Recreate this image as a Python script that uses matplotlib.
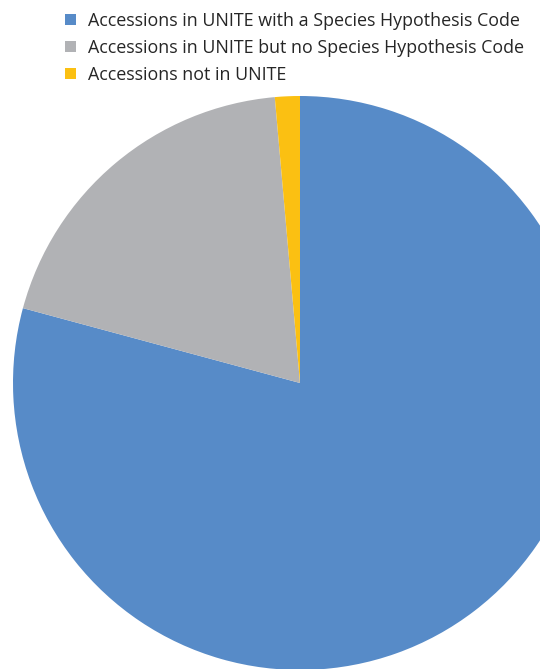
import matplotlib
matplotlib.use("Agg")
import matplotlib.pyplot as plt
from matplotlib.patches import Patch

labels = ["Accessions in UNITE with a Species Hypothesis Code",
          "Accessions in UNITE but no Species Hypothesis Code",
          "Accessions not in UNITE"]
values = [79.2, 19.4, 1.4]
colors = ["#578BC8", "#B1B2B5", "#FBC012"]

fig = plt.figure(figsize=(5.4, 6.69), dpi=100)
ax = fig.add_axes([0, 0, 1, 1])
ax.pie(values, colors=colors, startangle=90, counterclock=False,
       center=(300, 669 - 383), radius=287,
       wedgeprops=dict(linewidth=0))
ax.set_xlim(0, 540)
ax.set_ylim(0, 669)
ax.set_aspect("equal")
ax.axis("off")

handles = [Patch(facecolor=c, edgecolor="none") for c in colors]
fig.legend(handles, labels, loc="upper left", bbox_to_anchor=(65 / 540, 1 - 12 / 669),
           frameon=False, prop=dict(family="Open Sans", size=12.9),
           handlelength=0.6, handleheight=0.6, handletextpad=0.7,
           labelspacing=0.5, borderaxespad=0, borderpad=0, labelcolor="#262626")
fig.savefig("out.png", dpi=100)
